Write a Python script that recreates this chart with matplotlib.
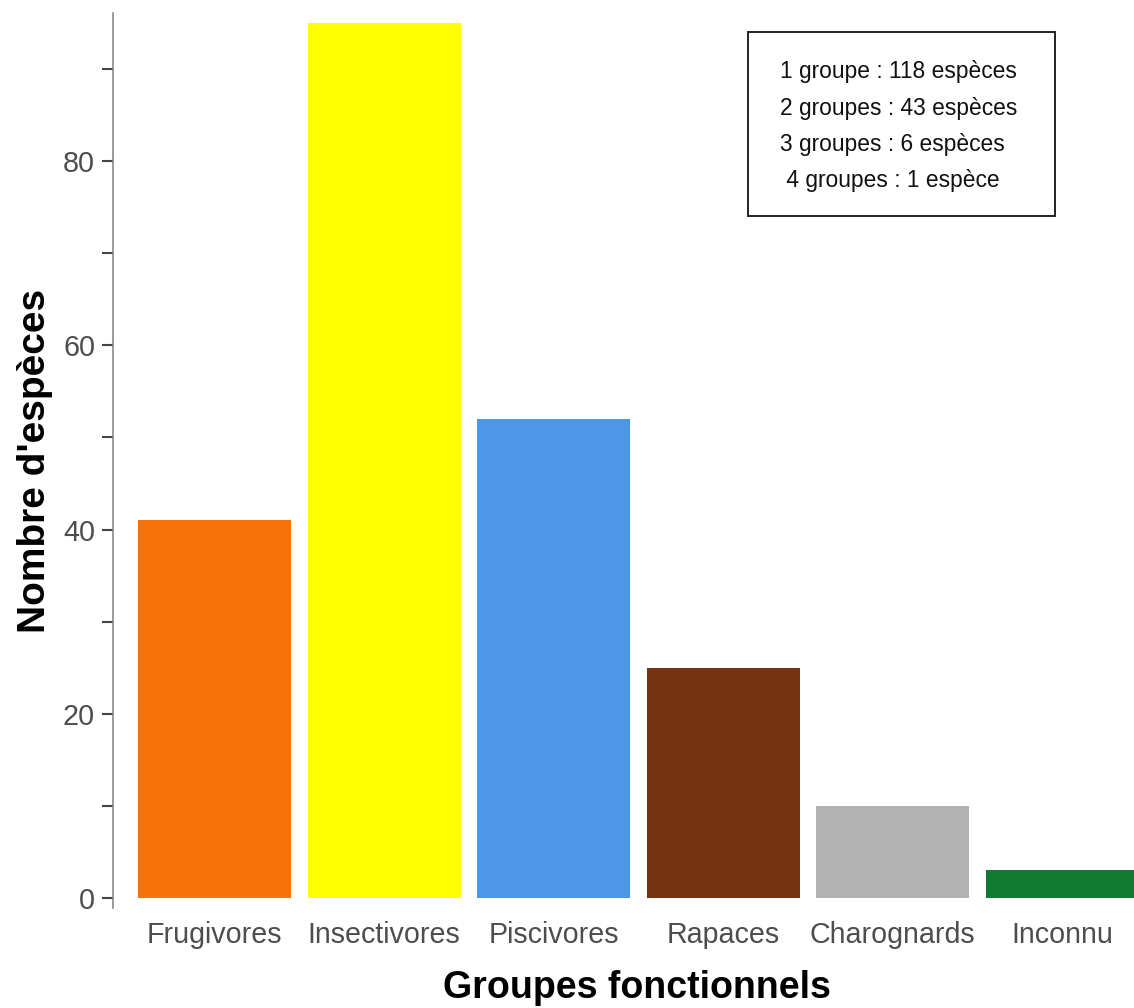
import matplotlib
matplotlib.use("Agg")
import matplotlib.pyplot as plt
from matplotlib.patches import Rectangle

plt.rcParams["font.family"] = ["Liberation Sans", "DejaVu Sans"]

# Species count per functional group
GROUPS = ["Frugivores", "Insectivores", "Piscivores", "Rapaces", "Charognards", "Inconnu"]
COUNTS = [41, 95, 52, 25, 10, 3]
COLORS = ["#f7730a", "#ffff00", "#4d98e6", "#763311", "#b2b2b2", "#107a33"]

MAJOR_TICKS = [0, 20, 40, 60, 80]
MINOR_TICKS = [10, 30, 50, 70, 90]

BOX_LINES = [
    "1 groupe : 118 espèces",
    "2 groupes : 43 espèces",
    "3 groupes : 6 espèces",
    " 4 groupes : 1 espèce",
]

W, H = 1134, 1008
fig = plt.figure(figsize=(W / 100, H / 100), dpi=100)
# panel runs past the right edge of the picture, as in the original crop
ax = fig.add_axes([113 / W, 100 / H, (1164 - 113) / W, (908 - 13) / H])

x = range(len(GROUPS))
ax.bar(x, COUNTS, width=0.9, color=COLORS, linewidth=0)

ax.set_xlim(-0.6, len(GROUPS) - 0.4)
ax.set_ylim(-1.085, 96.07)

for side in ["top", "right", "bottom"]:
    ax.spines[side].set_visible(False)
ax.spines["left"].set_color("#7f7f7f")
ax.spines["left"].set_linewidth(1.1)

ax.set_xticks(list(x))
ax.set_xticklabels(GROUPS)
ax.tick_params(axis="x", length=0, pad=9.7, labelsize=20.6, labelcolor="#4d4d4d")

ax.set_yticks(MAJOR_TICKS)
ax.set_yticks(MINOR_TICKS, minor=True)
ax.tick_params(axis="y", which="both", length=7.9, width=1.5, color="#444444",
               pad=5, labelsize=20.7, labelcolor="#4d4d4d")

ax.set_xlabel("Groupes fonctionnels", fontsize=27, fontweight="bold")
ax.set_ylabel("Nombre d'espèces", fontsize=28, fontweight="bold")

# label positions, in figure pixels
ax.xaxis.label.set_verticalalignment("baseline")
ax.xaxis.set_label_coords(637 / W, 1 - 998 / H, transform=fig.transFigure)
ax.yaxis.label.set_verticalalignment("baseline")
ax.yaxis.set_label_coords(45 / W, 1 - 461 / H, transform=fig.transFigure)

# annotation box
fig.patches.append(Rectangle((748 / W, 1 - 216 / H), (1055 - 748) / W, (216 - 32) / H,
                             transform=fig.transFigure, fill=False,
                             edgecolor="#222222", linewidth=1.4))
baselines = [78, 115, 151, 187]
for line, yb in zip(BOX_LINES, baselines):
    fig.text(780 / W, 1 - yb / H, line, fontsize=16.4, color="#111111",
             ha="left", va="baseline")

fig.savefig("out.png", dpi=100)
